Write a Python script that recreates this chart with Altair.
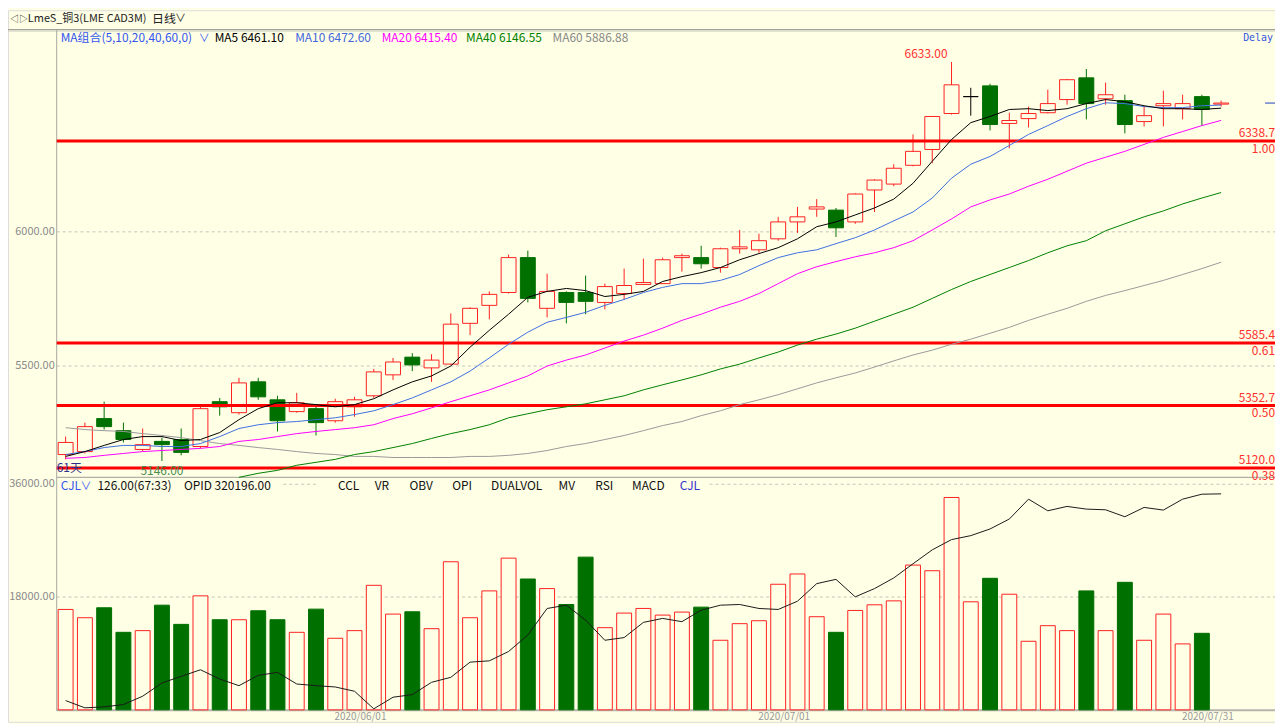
import altair as alt
import pandas as pd

# ---------------- data ----------------
opens = [5170, 5181, 5304, 5259, 5189, 5219, 5226, 5200, 5367, 5326,
         5441, 5374, 5330, 5341, 5296, 5348, 5389, 5467, 5533, 5493,
         5507, 5659, 5726, 5774, 5904, 5715, 5774, 5774, 5737, 5770,
         5804, 5807, 5904, 5904, 5867, 5937, 5933, 5974, 6037, 6085,
         6081, 6037, 6156, 6178, 6248, 6307, 6441, 6504, 6544, 6404,
         6422, 6444, 6493, 6574, 6496, 6489, 6411, 6470, 6459, 6504, 6476]
highs = [5237, 5289, 5367, 5289, 5267, 5233, 5267, 5352, 5381, 5456,
         5456, 5389, 5400, 5352, 5378, 5385, 5489, 5530, 5548, 5544,
         5696, 5719, 5778, 5915, 5930, 5844, 5778, 5837, 5807, 5863,
         5900, 5904, 5919, 5948, 5941, 6007, 5993, 6056, 6093, 6122,
         6089, 6144, 6196, 6252, 6363, 6430, 6633, 6537, 6552, 6444,
         6467, 6530, 6570, 6607, 6556, 6511, 6467, 6526, 6511, 6511, 6489]
lows = [5152, 5174, 5263, 5215, 5181, 5146, 5167, 5193, 5315, 5319,
        5374, 5256, 5326, 5241, 5289, 5311, 5381, 5448, 5481, 5441,
        5504, 5615, 5674, 5770, 5737, 5681, 5659, 5693, 5711, 5748,
        5804, 5807, 5852, 5863, 5848, 5919, 5922, 5967, 5996, 6056,
        5981, 6030, 6074, 6170, 6244, 6256, 6437, 6433, 6378, 6311,
        6389, 6441, 6474, 6419, 6474, 6367, 6393, 6393, 6419, 6396, 6467]
closes = [5215, 5274, 5274, 5226, 5207, 5207, 5178, 5341, 5348, 5437,
          5385, 5296, 5363, 5289, 5367, 5374, 5478, 5515, 5504, 5522,
          5656, 5715, 5767, 5904, 5752, 5778, 5737, 5741, 5796, 5800,
          5811, 5896, 5911, 5881, 5937, 5944, 5967, 6037, 6056, 6093,
          6015, 6141, 6193, 6237, 6300, 6430, 6548, 6504, 6400, 6415,
          6441, 6478, 6567, 6478, 6511, 6400, 6433, 6478, 6478, 6456, 6480]
volumes = [16020, 14700, 16290, 12370, 12640, 16700, 13640, 18190, 14380, 14380,
           15810, 14380, 12370, 16070, 11420, 12640, 19870, 15280, 15650, 12950,
           23630, 14700, 18980, 24210, 20880, 19350, 16810, 24370, 13110, 15440,
           16180, 15120, 15600, 16390, 11100, 13750, 14220, 20040, 21680, 14860,
           12370, 15860, 16760, 17390, 23100, 22200, 33890, 17240, 20990, 18450,
           10940, 13430, 12640, 18980, 12640, 20350, 11100, 15280, 10520, 12210]
opi = [257790, 255600, 255900, 256590, 259110, 263100, 265110, 267090, 264300, 262290,
       265410, 266310, 262800, 262290, 261900, 260610, 255300, 258810, 259590, 263310,
       264810, 269400, 269790, 272610, 277590, 285600, 286590, 282090, 276000, 276810,
       281400, 282600, 281610, 285090, 286590, 286800, 285600, 285300, 287790, 293100,
       294390, 289110, 291600, 294810, 299100, 303300, 306390, 307590, 309600, 312600,
       318600, 315090, 316410, 315600, 315390, 313290, 316110, 315300, 318600, 320100, 320196]
ma5 = [5163, 5181, 5204, 5226, 5237, 5237, 5222, 5226, 5252, 5300,
       5341, 5363, 5363, 5356, 5348, 5356, 5378, 5411, 5441, 5463,
       5500, 5570, 5633, 5693, 5756, 5778, 5789, 5781, 5759, 5767,
       5778, 5815, 5833, 5848, 5867, 5896, 5919, 5941, 5974, 6019,
       6037, 6063, 6089, 6122, 6181, 6263, 6344, 6407, 6430, 6456,
       6459, 6452, 6459, 6478, 6493, 6485, 6470, 6459, 6459, 6456, 6461.10]
ma10 = [5170, 5181, 5196, 5204, 5204, 5200, 5200, 5211, 5237, 5267,
        5281, 5289, 5293, 5300, 5307, 5319, 5333, 5356, 5381, 5411,
        5441, 5481, 5530, 5581, 5626, 5663, 5681, 5700, 5726, 5748,
        5774, 5793, 5807, 5807, 5819, 5841, 5874, 5904, 5922, 5933,
        5956, 5978, 6007, 6041, 6074, 6126, 6200, 6252, 6281, 6322,
        6363, 6396, 6430, 6459, 6481, 6478, 6467, 6463, 6463, 6470, 6472.60]
ma20 = [5156, 5159, 5167, 5174, 5181, 5185, 5189, 5193, 5200, 5219,
        5226, 5237, 5248, 5256, 5263, 5270, 5281, 5304, 5322, 5344,
        5367, 5389, 5411, 5437, 5463, 5500, 5522, 5541, 5567, 5593,
        5615, 5641, 5670, 5693, 5719, 5741, 5770, 5807, 5844, 5870,
        5889, 5907, 5922, 5941, 5967, 6007, 6048, 6093, 6119, 6141,
        6170, 6196, 6226, 6256, 6278, 6300, 6326, 6352, 6374, 6396, 6415.40]
ma40_start = 9
ma40 = [5085, 5100, 5111, 5130, 5141, 5152, 5170, 5181, 5196, 5211,
        5230, 5248, 5263, 5281, 5307, 5322, 5337, 5348, 5359, 5374,
        5389, 5411, 5430, 5448, 5467, 5489, 5507, 5530, 5552, 5578,
        5600, 5619, 5641, 5667, 5693, 5719, 5752, 5785, 5815, 5841,
        5867, 5893, 5922, 5948, 5967, 6004, 6030, 6056, 6078, 6104, 6126, 6146.55]
ma60 = [5270, 5263, 5259, 5256, 5248, 5241, 5233, 5222, 5211, 5204,
        5196, 5189, 5181, 5174, 5170, 5163, 5163, 5159, 5159, 5159,
        5159, 5163, 5163, 5167, 5174, 5185, 5200, 5211, 5226, 5241,
        5259, 5278, 5293, 5315, 5333, 5356, 5374, 5393, 5415, 5437,
        5456, 5474, 5496, 5519, 5541, 5559, 5581, 5600, 5622, 5644,
        5670, 5693, 5715, 5741, 5763, 5781, 5800, 5819, 5841, 5863, 5886.88]
fib_prices = [6338.7, 5585.4, 5352.7, 5120.0]
fib_ratios = ["1.00", "0.61", "0.50", "0.38"]
price_ticks = [5500, 6000]
vol_ticks = [18000, 36000]
date_idx = [15, 37, 59]
date_labels = ["2020/06/01", "2020/07/01", "2020/07/31"]

# ---------------- styling ----------------
BG = "#FFFFE6"
RED = "#FF2020"
GREEN = "#007000"
FONT = "Noto Sans CJK SC"
GRID = "#C4C4BC"
AXIS = "#A8A8A0"
MA_NAMES = ["MA5", "MA10", "MA20", "MA40", "MA60"]
MA_COLORS = ["#000000", "#3F6FE0", "#FF00FF", "#008000", "#999999"]

n = len(opens)
X = alt.Scale(domain=[0, 60], range=[58, 1220.8], nice=False, zero=False, padding=0)
PY = alt.Scale(domain=[5500, 6000], range=[358, 223], nice=False, zero=False, padding=0)
VY = alt.Scale(domain=[0, 36000], range=[704, 477], nice=False, zero=False, padding=0)
OY = alt.Scale(domain=[255000, 325200], range=[704, 470], nice=False, zero=False, padding=0)

FILL = alt.Scale(domain=["up", "down", "flat"], range=[BG, GREEN, BG])
STROKE = alt.Scale(domain=["up", "down", "flat"], range=[RED, GREEN, "#000000"])


def cdir(o, c):
    return "up" if c > o else ("down" if c < o else "flat")


candles = pd.DataFrame({"i": list(range(n)), "open": opens, "high": highs,
                        "low": lows, "close": closes})
candles["dir"] = [cdir(o, c) for o, c in zip(opens, closes)]

vol_df = pd.DataFrame({"i": list(range(len(volumes))), "vol": volumes})
vol_df["zero"] = 0
vol_df["dir"] = ["down" if c < o else "up" for o, c in zip(opens, closes)][:len(volumes)]

opi_df = pd.DataFrame({"i": list(range(n)), "opi": opi})

ma_series = {
    "MA5": (0, ma5), "MA10": (0, ma10), "MA20": (0, ma20),
    "MA40": (ma40_start, ma40), "MA60": (0, ma60),
}

fib_df = pd.DataFrame({"price": fib_prices, "ratio": fib_ratios,
                       "plabel": [f"{p:.1f}" for p in fib_prices]})
ptick_df = pd.DataFrame({"v": price_ticks, "label": [f"{v:.2f}" for v in price_ticks]})
vtick_df = pd.DataFrame({"v": vol_ticks, "label": [f"{v:.2f}" for v in vol_ticks]})
date_df = pd.DataFrame({"i": date_idx, "label": date_labels})

hi_i = int(pd.Series(highs).idxmax())
lo_i = int(pd.Series(lows).idxmin())
hi_df = pd.DataFrame({"i": [hi_i], "v": [highs[hi_i]], "label": [f"{highs[hi_i]:.2f}"]})
lo_df = pd.DataFrame({"i": [lo_i], "v": [lows[lo_i]], "label": [f"{lows[lo_i]:.2f}"]})
last_df = pd.DataFrame({"v": [closes[-1]]})

ONE = alt.Data(values=[{}])


def label(text, x, y, color="#222222", size=12, align="left", baseline="middle", font=FONT):
    return alt.Chart(ONE).mark_text(text=text, align=align, baseline=baseline, color=color,
                                    fontSize=size, font=font).encode(x=alt.value(x), y=alt.value(y))


def hrule(x1, x2, y, color, width=1.0, dash=None):
    kw = dict(color=color, strokeWidth=width)
    if dash:
        kw["strokeDash"] = dash
    return alt.Chart(ONE).mark_rule(**kw).encode(x=alt.value(x1), x2=alt.value(x2), y=alt.value(y))


def vrule(x, y1, y2, color, width=1.0):
    return alt.Chart(ONE).mark_rule(color=color, strokeWidth=width).encode(
        x=alt.value(x), y=alt.value(y1), y2=alt.value(y2))


layers = []

# grid lines
layers.append(alt.Chart(ptick_df).mark_rule(color=GRID, strokeDash=[3, 3]).encode(
    x=alt.value(49), x2=alt.value(1275), y=alt.Y("v:Q", scale=PY, axis=None)))
layers.append(alt.Chart(vtick_df[vtick_df.v < 30000]).mark_rule(color=GRID, strokeDash=[3, 3]).encode(
    x=alt.value(49), x2=alt.value(1275), y=alt.Y("v:Q", scale=VY, axis=None)))
top_vol = vtick_df[vtick_df.v > 30000]
for x1, x2 in [(277, 313), (706, 1275)]:
    layers.append(alt.Chart(top_vol).mark_rule(color=GRID, strokeDash=[3, 3]).encode(
        x=alt.value(x1), x2=alt.value(x2), y=alt.Y("v:Q", scale=VY, axis=None)))

# frame lines
layers.append(hrule(0, 1275, 19.5, "#A0A098", 1.2))
layers.append(hrule(0, 1275, 21, "#D0D0C4", 1))
layers.append(vrule(49, 20, 705, AXIS, 1))
layers.append(hrule(49, 1275, 470, "#B0B0A4", 1.2))
layers.append(hrule(49, 1275, 704.5, "#B4B4AC", 2))

# volume bars
layers.append(alt.Chart(vol_df).mark_bar(size=15, strokeWidth=1).encode(
    x=alt.X("i:Q", scale=X, axis=None),
    y=alt.Y("vol:Q", scale=VY, axis=None),
    y2="zero:Q",
    fill=alt.Fill("dir:N", scale=FILL, legend=None),
    stroke=alt.Stroke("dir:N", scale=STROKE, legend=None)))

# open interest line
layers.append(alt.Chart(opi_df).mark_line(color="#1A1A1A", strokeWidth=1).encode(
    x=alt.X("i:Q", scale=X, axis=None),
    y=alt.Y("opi:Q", scale=OY, axis=None)))

# candles: wicks then bodies
layers.append(alt.Chart(candles).mark_rule(strokeWidth=1).encode(
    x=alt.X("i:Q", scale=X, axis=None),
    y=alt.Y("high:Q", scale=PY, axis=None),
    y2="low:Q",
    stroke=alt.Stroke("dir:N", scale=STROKE, legend=None)))
layers.append(alt.Chart(candles).mark_bar(size=15, strokeWidth=1).encode(
    x=alt.X("i:Q", scale=X, axis=None),
    y=alt.Y("open:Q", scale=PY, axis=None),
    y2="close:Q",
    fill=alt.Fill("dir:N", scale=FILL, legend=None),
    stroke=alt.Stroke("dir:N", scale=STROKE, legend=None)))

# fibonacci lines
layers.append(alt.Chart(fib_df).mark_rule(color="#FF0000", strokeWidth=3).encode(
    x=alt.value(49), x2=alt.value(1275), y=alt.Y("price:Q", scale=PY, axis=None)))

# moving averages
for name, color in reversed(list(zip(MA_NAMES, MA_COLORS))):
    start, vals = ma_series[name]
    df = pd.DataFrame({"i": list(range(start, start + len(vals))), "v": vals})
    layers.append(alt.Chart(df).mark_line(color=color, strokeWidth=1).encode(
        x=alt.X("i:Q", scale=X, axis=None),
        y=alt.Y("v:Q", scale=PY, axis=None)))

# current price marker
layers.append(alt.Chart(last_df).mark_rule(color="#1F3FBF", strokeWidth=1).encode(
    x=alt.value(1265), x2=alt.value(1275), y=alt.Y("v:Q", scale=PY, axis=None)))

# fib labels
layers.append(alt.Chart(fib_df).mark_text(align="right", baseline="middle", dy=-8, color="#FF3030",
                                          fontSize=12, font=FONT).encode(
    x=alt.value(1275), y=alt.Y("price:Q", scale=PY, axis=None), text="plabel:N"))
layers.append(alt.Chart(fib_df).mark_text(align="right", baseline="middle", dy=8, color="#FF3030",
                                          fontSize=12, font=FONT).encode(
    x=alt.value(1275), y=alt.Y("price:Q", scale=PY, axis=None), text="ratio:N"))

# left axis labels
layers.append(alt.Chart(ptick_df).mark_text(align="right", baseline="middle", color="#8A8A8A",
                                            fontSize=11, font=FONT).encode(
    x=alt.value(47), y=alt.Y("v:Q", scale=PY, axis=None), text="label:N"))
layers.append(alt.Chart(vtick_df).mark_text(align="right", baseline="middle", color="#8A8A8A",
                                            fontSize=11, font=FONT).encode(
    x=alt.value(47), y=alt.Y("v:Q", scale=VY, axis=None), text="label:N"))

# date labels
layers.append(alt.Chart(date_df).mark_text(align="center", baseline="bottom", dx=6, color="#9A9A9A",
                                           fontSize=10, font=FONT).encode(
    x=alt.X("i:Q", scale=X, axis=None), y=alt.value(716), text="label:N"))

# extreme labels
layers.append(alt.Chart(hi_df).mark_text(align="right", baseline="middle", dx=-4, dy=-8,
                                         color="#FF3030", fontSize=12, font=FONT).encode(
    x=alt.X("i:Q", scale=X, axis=None), y=alt.Y("v:Q", scale=PY, axis=None), text="label:N"))
layers.append(alt.Chart(lo_df).mark_text(align="center", baseline="middle", dy=10,
                                         color="#4C8C4C", fontSize=12, font=FONT).encode(
    x=alt.X("i:Q", scale=X, axis=None), y=alt.Y("v:Q", scale=PY, axis=None), text="label:N"))
layers.append(label(f"{n}天", 49, 461, color="#2E2E8A", size=12))

# header texts
layers.append(label("◁▷", 2, 9, color="#333333", size=9))
layers.append(label("LmeS_铜3(LME CAD3M)", 20, 9, color="#222222", size=11))
layers.append(label("日线", 145, 9, color="#222222", size=12))
layers.append(label("∨", 168, 9, color="#222222", size=11))
layers.append(label("MA组合(5,10,20,40,60,0)", 53, 28, color="#3355EE", size=12))
layers.append(label("∨", 192, 29, color="#3355EE", size=11))
ma_last = [ma5[-1], ma10[-1], ma20[-1], ma40[-1], ma60[-1]]
for (name, color), xpos, v in zip(zip(MA_NAMES, ["#000000", "#4466DD", "#FF00FF", "#008000", "#888888"]),
                                  [208, 289, 376, 461, 548], ma_last):
    layers.append(label(f"{name} {v:.2f}", xpos, 28, color=color, size=12))
layers.append(label("Delay", 1273, 28, color="#3355DD", size=10, align="right", font="DejaVu Sans Mono"))

layers.append(label("CJL", 53, 479, color="#3355EE", size=12))
layers.append(label("∨", 73, 480, color="#3355EE", size=11))
layers.append(label("126.00(67:33)", 90, 479, color="#111111", size=12))
layers.append(label(f"OPID {opi[-1]:.2f}", 177, 479, color="#111111", size=12))
for txt, xpos, col in [("CCL", 332, "#111111"), ("VR", 369, "#111111"), ("OBV", 404, "#111111"),
                       ("OPI", 447, "#111111"), ("DUALVOL", 486, "#111111"), ("MV", 554, "#111111"),
                       ("RSI", 591, "#111111"), ("MACD", 628, "#111111"), ("CJL", 676, "#3333CC")]:
    layers.append(label(txt, xpos, 479, color=col, size=12))

chart = alt.layer(*layers).resolve_scale(y="independent").properties(
    width=1275, height=716, padding=0, autosize="none", background=BG
).configure_view(strokeWidth=0).configure(font=FONT)

chart.save("out.html", embed_options={"renderer": "svg", "actions": False})
